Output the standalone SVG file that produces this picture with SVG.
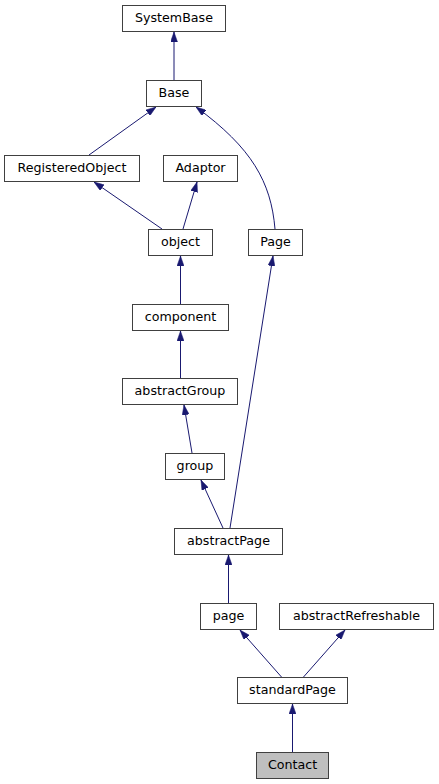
<svg xmlns="http://www.w3.org/2000/svg" width="439" height="784" viewBox="0 0 439 784">
<style>
.n rect{fill:#ffffff;stroke:#404040;stroke-width:1}
.n.cur rect{fill:#bfbfbf}
.n text{font-family:"DejaVu Sans",sans-serif;font-size:12.67px;fill:#000000;text-anchor:middle}
.e path{fill:none;stroke:#191970;stroke-width:1;marker-end:url(#ah)}
</style>
<defs>
<marker id="ah" viewBox="0 0 10 7" refX="10" refY="3.5" markerWidth="10" markerHeight="7" markerUnits="userSpaceOnUse" orient="auto">
<path d="M0,0 L10,3.5 L0,7 z" fill="#191970" stroke="#191970" stroke-width="0.5"/>
</marker>
</defs>
<rect x="0" y="0" width="439" height="784" fill="#ffffff"/>
<g id="edges" class="e">
<path d="M174,80 L174,32"/>
<path d="M89,155 L156,107"/>
<path d="M275,229 C271,182 252,148 196,107"/>
<path d="M162,229 L94,182"/>
<path d="M183,229 L197,182"/>
<path d="M180.5,304 L180.5,256"/>
<path d="M230,528 L273,256"/>
<path d="M180.5,378 L180.5,331"/>
<path d="M192,453 L184,405"/>
<path d="M223,528 L201,480"/>
<path d="M228.5,603 L228.5,555"/>
<path d="M281.5,677 L240,630"/>
<path d="M303.5,677 L345,630"/>
<path d="M292.5,752 L292.5,704"/>
</g>
<g id="SystemBase" class="n"><rect x="122.5" y="5.5" width="103" height="26"/><text x="174" y="22">SystemBase</text></g>
<g id="Base" class="n"><rect x="146.5" y="80.5" width="55" height="26"/><text x="174" y="97">Base</text></g>
<g id="RegisteredObject" class="n"><rect x="4.5" y="155.5" width="135" height="26"/><text x="72" y="172">RegisteredObject</text></g>
<g id="Adaptor" class="n"><rect x="163.5" y="155.5" width="74" height="26"/><text x="200.5" y="172">Adaptor</text></g>
<g id="object" class="n"><rect x="148.5" y="229.5" width="64" height="26"/><text x="180.5" y="246">object</text></g>
<g id="Page" class="n"><rect x="248.5" y="229.5" width="54" height="26"/><text x="275.5" y="246">Page</text></g>
<g id="component" class="n"><rect x="132.5" y="304.5" width="96" height="26"/><text x="180.5" y="321">component</text></g>
<g id="abstractGroup" class="n"><rect x="122.5" y="378.5" width="115" height="26"/><text x="180" y="395">abstractGroup</text></g>
<g id="group" class="n"><rect x="165.5" y="453.5" width="59" height="26"/><text x="195" y="470">group</text></g>
<g id="abstractPage" class="n"><rect x="174.5" y="528.5" width="108" height="26"/><text x="228.5" y="545">abstractPage</text></g>
<g id="page" class="n"><rect x="200.5" y="603.5" width="56" height="26"/><text x="228.5" y="620">page</text></g>
<g id="abstractRefreshable" class="n"><rect x="279.5" y="603.5" width="154" height="26"/><text x="356.5" y="620">abstractRefreshable</text></g>
<g id="standardPage" class="n"><rect x="237.5" y="677.5" width="110" height="26"/><text x="292.5" y="694">standardPage</text></g>
<g id="Contact" class="n cur"><rect x="256.5" y="752.5" width="72" height="26"/><text x="292.5" y="769">Contact</text></g>
</svg>
